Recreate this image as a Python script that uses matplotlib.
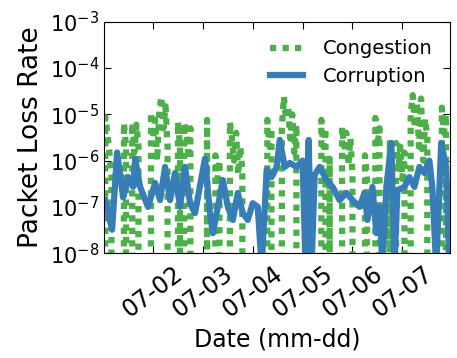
import datetime as dt
import matplotlib
matplotlib.use("Agg")
import matplotlib.pyplot as plt
import matplotlib.dates as mdates
from matplotlib.ticker import LogLocator

start = dt.datetime(2016, 7, 1)

# hourly congestion loss rate (0 = no loss)
congestion = [
    0, 8.8e-6, 4e-6, 1.5e-6, 5e-7, 0, 0, 0, 0, 0, 6.5e-6, 2e-6,
    0, 0, 6.5e-6, 1.5e-6, 6e-6, 2e-6, 0, 0, 0, 0, 0, 1.1e-5,
    3e-6, 7.6e-6, 1e-6, 1.2e-5, 2.4e-5, 5e-6, 1.5e-5, 2e-6, 0, 0, 0, 0,
    6.8e-6, 2e-6, 0, 6.5e-6, 4e-6, 1.5e-6, 5e-6, 0, 0, 0, 0, 0,
    0, 0, 7.6e-6, 0, 0, 0, 1.3e-6, 4e-7, 1e-6, 0, 0, 0,
    0, 6.8e-6, 3e-6, 1e-6, 4e-6, 5e-7, 2e-6, 6e-7, 0, 0, 0, 0,
    0, 0, 0, 0, 0, 0, 0, 7.6e-6, 2e-6, 5e-6, 0, 0,
    0, 0, 5e-6, 2.4e-5, 8e-6, 1.5e-5, 3e-6, 1e-5, 1.5e-6, 6e-6, 0, 0,
    0, 0, 0, 0, 0, 0, 0, 0, 0, 7.6e-6, 2e-6, 5e-6,
    0, 1.1e-6, 0, 0, 0, 0, 0, 5.3e-6, 2e-6, 4e-6, 8e-7, 3e-6,
    5e-7, 0, 0, 0, 0, 0, 1.3e-6, 4e-7, 0, 0, 0, 8.4e-6,
    2e-6, 5e-6, 0, 0, 0, 0, 2.8e-6, 0, 0, 2.4e-6, 6e-7, 2e-6,
    4e-7, 1.5e-6, 0, 0, 1e-5, 2.6e-5, 5e-6, 1.8e-5, 2e-6, 2.2e-5, 1e-6, 8e-6,
    3e-6, 0, 0, 0, 0, 0, 0, 1.4e-5, 4e-6, 1e-5, 0, 0,
]
cong_hours = list(range(len(congestion)))

# corruption loss rate (hours since 07-01 00:00)
corr_hours = [1.0, 4.3, 6.7, 9.6, 12.0, 14.4, 15.4, 17.8, 21.6, 25.0, 27.4, 29.8,
              32.2, 34.6, 37.0, 39.4, 41.8, 44.2, 49.0, 51.4, 52.8, 55.2, 57.6, 60.0,
              62.4, 64.8, 67.2, 69.6, 72.0, 74.4, 76.3, 78.7, 81.1, 83.5, 85.0, 87.4,
              89.8, 93.1, 96.0, 97.4, 98.9, 100.3, 101.8, 104.2, 107.5, 110.4, 113.8, 117.1,
              120.0, 123.4, 125.8, 127.2, 129.6, 131.5, 133.0, 134.4, 136.3, 138.7, 140.2, 141.6,
              145.0, 147.4, 149.8, 152.2, 154.6, 157.0, 158.4, 160.3, 162.7, 165.1, 166.6]
corruption = [1.4e-7, 3.2e-8, 1.5e-6, 1.6e-7, 4.4e-7, 2.7e-7, 1.1e-6, 2.7e-7, 1.0e-7, 3.3e-7, 1.4e-7, 7.3e-7,
              1.4e-7, 5.4e-7, 1.0e-7, 7.3e-7, 1.2e-7, 7.3e-8, 1.1e-6, 7.3e-8, 2.7e-8, 1.0e-7, 3.8e-7, 1.0e-7,
              5.2e-8, 2.0e-7, 7.3e-8, 5.2e-8, 1.2e-7, 1.0e-7, 5e-9, 6.3e-7, 4.4e-7, 7.3e-7, 2.8e-6, 7.3e-7,
              8.9e-7, 7.3e-7, 1.0e-6, 5e-9, 2.8e-6, 5e-9, 4.9e-7, 7.3e-7, 3.8e-7, 2.7e-7, 1.4e-7, 2.0e-7,
              1.4e-7, 1.0e-7, 2.0e-7, 5.2e-8, 2.7e-7, 2.7e-8, 1.0e-7, 5e-9, 2.7e-7, 2.4e-6, 5e-9, 2.3e-7,
              2.7e-7, 4.4e-7, 2.7e-7, 7.3e-7, 5.4e-7, 1.0e-6, 2.7e-7, 5e-9, 2.4e-6, 7.3e-7, 5e-9]

cong_t = [start + dt.timedelta(hours=h) for h in cong_hours]
corr_t = [start + dt.timedelta(hours=h) for h in corr_hours]

fig = plt.figure(figsize=(4.57, 3.58), dpi=100)
ax = fig.add_axes([0.228, 0.293, 0.757, 0.646])

ax.plot(cong_t, congestion, color='#4daf4a', lw=4.5, dashes=(1, 1), label='Congestion')
ax.plot(corr_t, corruption, color='#377eb8', lw=4.5, label='Corruption')

ax.set_yscale('log')
ax.set_ylim(1e-8, 1e-3)
ax.yaxis.set_major_locator(LogLocator(base=10, numticks=12))
ax.set_xlim(start + dt.timedelta(hours=0.5), start + dt.timedelta(hours=167))
ax.xaxis.set_major_locator(mdates.DayLocator())
ax.xaxis.set_major_formatter(mdates.DateFormatter('%m-%d'))

ax.tick_params(which='both', direction='in', top=True, right=True)
ax.tick_params(which='major', length=5)
ax.tick_params(which='minor', length=2.5)
ax.tick_params(axis='y', labelsize=15)
ax.tick_params(axis='x', labelsize=17, pad=6)
plt.setp(ax.get_xticklabels(), rotation=37, ha='center')
ax.set_xlabel('Date (mm-dd)', fontsize=17)
ax.set_ylabel('Packet Loss Rate', fontsize=19)
ax.legend(loc='upper right', frameon=False, fontsize=14, handlelength=1.7,
          handletextpad=1.0, labelspacing=0.45)

fig.savefig('out.png', dpi=100)
